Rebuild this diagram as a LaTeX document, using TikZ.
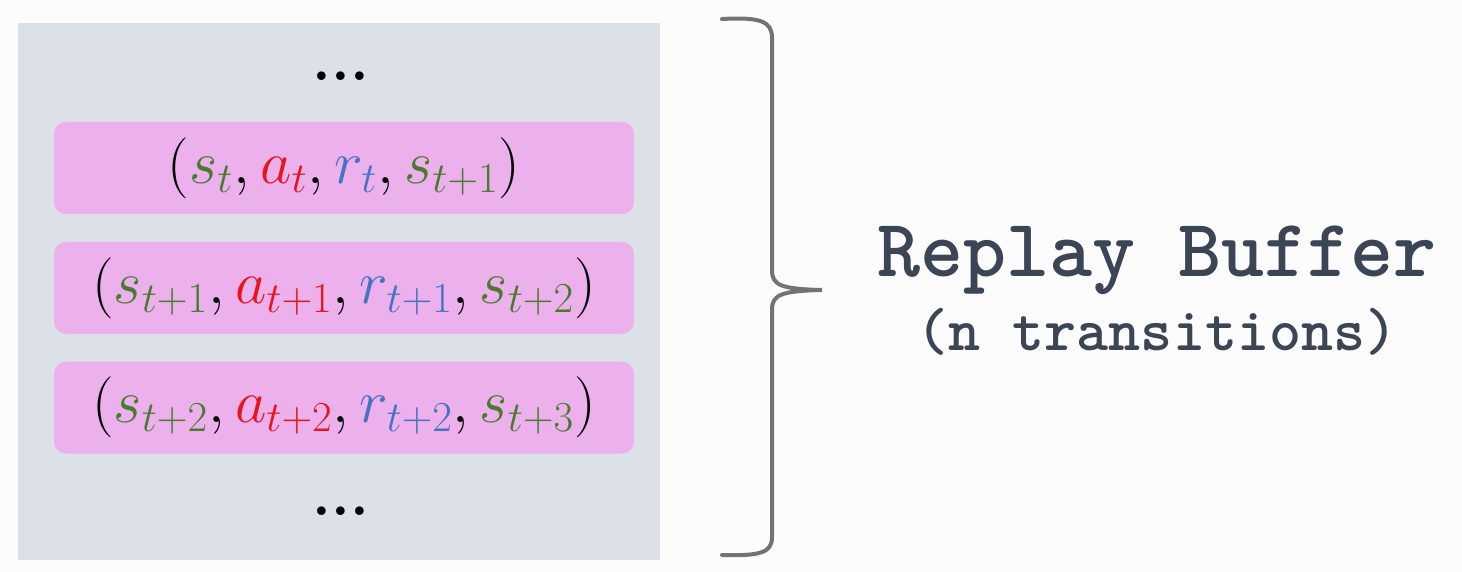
\RequirePackage{fix-cm}
\documentclass[tikz,border=0pt]{standalone}
\usepackage{fontspec}
\usepackage{amsmath}
\usepackage{xcolor}
\usepackage{tikz}
\usetikzlibrary{positioning}
\definecolor{pagewhite}{RGB}{253,252,253}
\definecolor{buffergray}{RGB}{220,225,232}
\definecolor{slotpink}{RGB}{236,176,236}
\definecolor{stategreen}{RGB}{74,122,46}
\definecolor{actionred}{RGB}{232,20,26}
\definecolor{rewardblue}{RGB}{68,114,196}
\definecolor{bracegray}{RGB}{115,115,115}
\definecolor{labelslate}{RGB}{59,69,86}
\newcommand{\svar}[1]{\textcolor{stategreen}{s_{#1}}}
\newcommand{\avar}[1]{\textcolor{actionred}{a_{#1}}}
\newcommand{\rvar}[1]{\textcolor{rewardblue}{r_{#1}}}

\begin{document}
\begin{tikzpicture}[x=0.5pt,y=-0.5pt, node distance=13.5pt,
 slot/.style={fill=slotpink,rounded corners=6pt,minimum width=290pt,minimum height=46pt,inner sep=0pt,
   font=\fontsize{30.5}{34}\selectfont},
 dots/.style={font=\fontsize{30}{30}\selectfont\bfseries},
 title/.style={font=\ttfamily\bfseries\fontsize{41}{44}\selectfont,text=labelslate}]
\fill[pagewhite] (0,0) rectangle (1462,572);
\useasboundingbox (0,0) rectangle (1462,572);
\node[fill=buffergray,minimum width=321pt,minimum height=268.5pt,inner sep=0pt] (buffer) at (339,291.5) {};
\node[slot] (tr1) at (344,168) {$(\svar{t},\avar{t},\rvar{t},\svar{t+1})$};
\node[slot, below=of tr1] (tr2) {$(\svar{t+1},\avar{t+1},\rvar{t+1},\svar{t+2})$};
\node[slot, below=of tr2] (tr3) {$(\svar{t+2},\avar{t+2},\rvar{t+2},\svar{t+3})$};
\node[dots] (top) at (341,76) {...};
\node[dots] (bottom) at (341,511) {...};
% the brace
\draw[bracegray,line width=2pt,line cap=round]
 (722,19) .. controls (760,17) and (772,21) .. (772,38) -- (772,270)
 .. controls (772,285) and (780,289) .. (822,290)
 .. controls (780,291) and (772,295) .. (772,310) -- (772,537)
 .. controls (772,553) and (760,556) .. (722,555);
\node[title] (name) at (1157,260) {Replay Buffer};
\node[title,font=\ttfamily\bfseries\fontsize{30.5}{33}\selectfont, below=0pt of name] (count) {(n transitions)};
\end{tikzpicture}
\end{document}
